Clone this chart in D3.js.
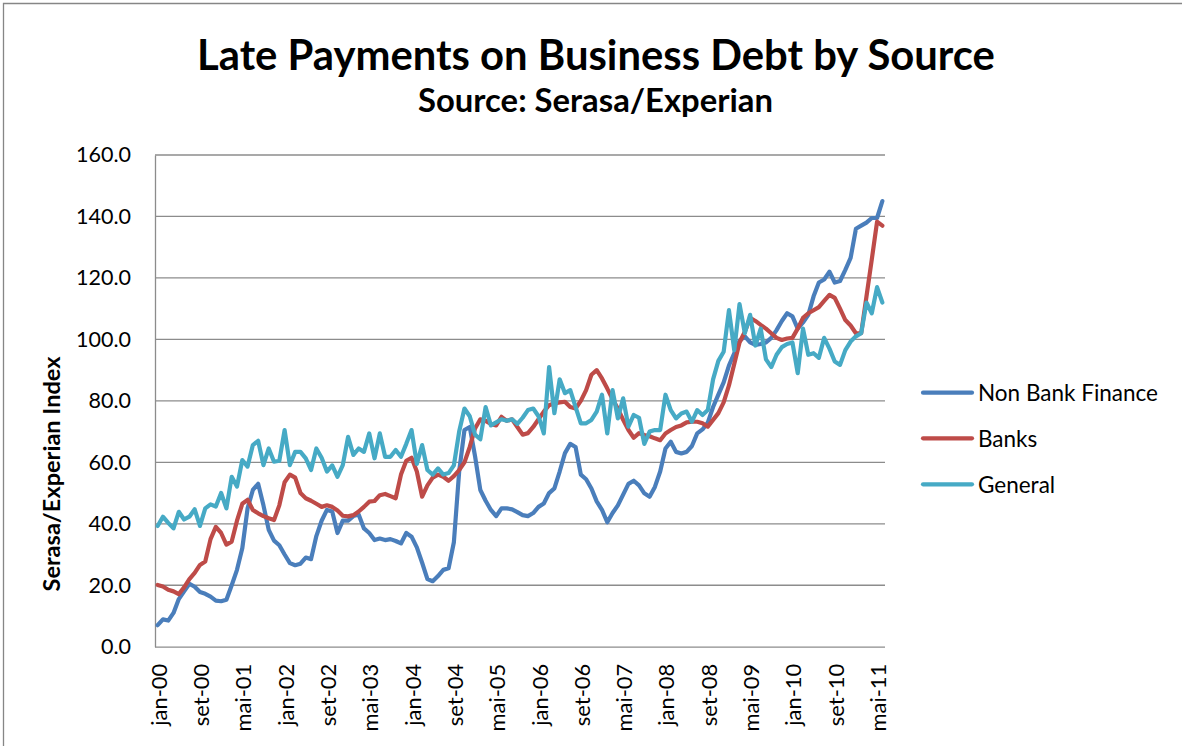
<!DOCTYPE html>
<html>
<head>
<meta charset="utf-8">
<script src="https://cdn.jsdelivr.net/npm/d3@7"></script>
<style>
  html, body { margin: 0; padding: 0; background: #fff; }
  svg { display: block; font-family: Lato, "Open Sans", "DejaVu Sans", sans-serif; }
</style>
</head>
<body>
<svg id="chart" width="1182" height="746"></svg>
<script>
// Monthly categories, jan-00 .. jun-11 (Portuguese month abbreviations)
const monthNames = ["jan","fev","mar","abr","mai","jun","jul","ago","set","out","nov","dez"];
const monthCount = 138;
const categories = d3.range(monthCount).map(i =>
  monthNames[i % 12] + "-" + String(Math.floor(i / 12)).padStart(2, "0"));
// every 8th month gets a label
const tickLabels = categories.filter((d, i) => i % 8 === 0);
const yTicks = [0, 20, 40, 60, 80, 100, 120, 140, 160];

const seriesNames = ["Non Bank Finance", "Banks", "General"];

const nonBankFinance = [
  7.0, 8.9, 8.5, 11, 15.5, 18, 20.5, 19.5, 17.8, 17.2, 16.3, 15,
  14.8, 15.3, 20, 25, 32, 45, 51, 53, 46, 38, 34.5, 33,
  30, 27.2, 26.5, 27, 29, 28.5, 36, 41, 44.5, 44, 37, 41,
  41, 42.5, 43, 38.5, 37, 34.7, 35.2, 34.7, 35, 34.4, 33.6, 37,
  35.8, 32.3, 27.3, 22, 21.3, 23, 25, 25.5, 34, 57, 70.5, 71.5,
  62, 51, 47.5, 44.5, 42.5, 45, 45, 44.7, 43.8, 42.8, 42.5, 43.5,
  45.5, 46.6, 50, 51.5, 57, 63, 66, 65, 56, 54.5, 51.5, 47.3,
  44.5, 40.5, 43.5, 46, 49.5, 53, 54, 52.5, 49.9, 48.8, 52, 57,
  64.5, 66.7, 63.4, 62.9, 63.4, 65.3, 69.4, 70.7, 72.9, 78, 82, 86,
  91.5, 95.5, 99.5, 101, 99, 98.2, 98.5, 99, 100.5, 103, 106, 108.5,
  107.5, 103.5, 105.5, 108, 114, 118.5, 119.5, 122, 118.5, 119, 122.6, 126.5,
  136, 137, 138, 139.5, 139.5, 145
];

const banks = [
  20.1, 19.6, 18.5, 18, 17.1, 19.3, 22, 24, 26.6, 27.7, 35, 39,
  37, 33.2, 34.2, 41, 46.5, 47.8, 44.5, 43.4, 42.5, 41.8, 41.2, 46,
  53.5, 56, 55, 50, 48.3, 47.5, 46.5, 45.5, 46, 45.5, 44.3, 42.6,
  42.4, 42.8, 44, 45.5, 47.2, 47.4, 49.3, 49.7, 49, 48.3, 56, 60.5,
  61.5, 57, 48.8, 52.5, 55, 56, 55.3, 54, 55.5, 57.5, 60, 65,
  71, 74, 73.5, 72.5, 72, 74.8, 73.5, 74, 71.5, 69, 69.5, 71.5,
  74, 76.5, 78.6, 79.2, 79.5, 79.7, 78, 77.5, 80, 83.5, 88.5, 90,
  87.3, 84, 80.5, 77.5, 73.8, 70.5, 68, 69.5, 68.9, 68.5, 67.8, 67.2,
  69.4, 70.5, 71.5, 72, 73, 73.2, 73.2, 72.7, 71.6, 73.8, 76, 79.5,
  85, 92, 99, 102.5, 107, 106, 104.7, 103.5, 102, 100.5, 99.8, 100.3,
  100.5, 103.5, 107, 108.5, 109.5, 110.5, 112.5, 114.5, 113.5, 110, 106.3, 104.5,
  102, 102, 114, 126, 138.3, 137
];

const general = [
  39.3, 42.3, 40.3, 38.5, 43.9, 41.4, 42.3, 44.7, 39.3, 45, 46.3, 45.6,
  50, 45, 55.3, 52.1, 60.7, 58.6, 65.6, 67, 59.1, 64.5, 60.2, 60.5,
  70.5, 59.1, 63.4, 63.4, 61.3, 57.5, 64.5, 61.5, 57, 59, 55.3, 59.1,
  68.3, 62.4, 64.5, 63.4, 69.4, 61.3, 69.4, 61.8, 61.8, 64, 61.8, 66,
  70.5, 59.5, 65.6, 57.5, 56, 58, 56, 56.5, 59, 70, 77.5, 75,
  69, 67.5, 78, 72, 73, 74, 73.5, 74, 72.5, 74.5, 77, 77.5,
  75, 69.4, 91, 76, 87, 82.5, 83.5, 78, 72.7, 72.7, 73.8, 76.5,
  82, 69.4, 83.5, 74.3, 80.8, 71.6, 75.4, 74.5, 66, 70, 70.5, 70.5,
  82, 77, 74.3, 75.9, 76.5, 73.2, 77, 75.4, 77, 87, 93, 96,
  109.5, 96.5, 111.5, 102, 108, 98, 103.5, 93.5, 91, 95, 97.5, 98.5,
  99, 89, 103.5, 95, 95.5, 94, 100.5, 97, 92.8, 91.7, 96.5, 99.3,
  101, 102, 112, 108.5, 117, 112
];

const seriesColors = ["#4A7EBB", "#BE4B48", "#46AAC5"];
const seriesValues = [nonBankFinance, banks, general];

const svg = d3.select("#chart");
const W = 1182, H = 746;
const plot = { left: 155, right: 885, top: 155, bottom: 646.7 };

svg.append("rect").attr("width", W).attr("height", H).attr("fill", "#fff");

// chart-area frame (top and left edges visible)
svg.append("path")
  .attr("d", `M3.5,${H} V3.5 H${W}`)
  .attr("fill", "none").attr("stroke", "#868686").attr("stroke-width", 1.3);

const x = d3.scalePoint().domain(categories).range([plot.left, plot.right]).padding(0.5);
const y = d3.scaleLinear().domain([0, 160]).range([plot.bottom, plot.top]);

// shrink/grow a text element's font so its rendered width matches a target
function fitWidth(sel, target) {
  const node = sel.node();
  const fs = parseFloat(sel.attr("font-size"));
  const w = node.getComputedTextLength();
  sel.attr("font-size", (fs * target / w).toFixed(2));
}

// horizontal gridlines
svg.append("g")
  .selectAll("line").data(yTicks.filter(d => d > 0)).join("line")
  .attr("x1", plot.left).attr("x2", plot.right)
  .attr("y1", d => y(d)).attr("y2", d => y(d))
  .attr("stroke", "#8C8C8C").attr("stroke-width", 1.3);

// y axis
const yAxis = svg.append("g")
  .attr("transform", `translate(${plot.left},0)`)
  .call(d3.axisLeft(y).tickValues(yTicks).tickFormat(d3.format(".1f")).tickSize(0).tickPadding(24));
yAxis.select(".domain").attr("stroke", "#8C8C8C").attr("stroke-width", 1.3);
yAxis.selectAll("text")
  .attr("font-family", "Lato, sans-serif").attr("font-size", 20).attr("fill", "#000");
const yt = yAxis.selectAll("text").filter(d => d === 160);
fitWidth(yt, 55);
const yfs = yt.attr("font-size");
yAxis.selectAll("text").attr("font-size", yfs);

// x axis with rotated month labels
const xAxis = svg.append("g")
  .attr("transform", `translate(0,${plot.bottom})`)
  .call(d3.axisBottom(x).tickValues(tickLabels).tickSize(0).tickPadding(0));
xAxis.select(".domain").attr("stroke", "#8C8C8C").attr("stroke-width", 1.3)
  .attr("d", `M${plot.left},0.5H${plot.right}`);
xAxis.selectAll(".tick text")
  .attr("font-family", "Lato, sans-serif").attr("font-size", 20).attr("fill", "#000")
  .attr("text-anchor", "end")
  .attr("dominant-baseline", "central")
  .attr("transform", "rotate(-90)")
  .attr("x", -17).attr("y", 0).attr("dy", null);
const xt = xAxis.selectAll(".tick text").filter(d => d === "jan-00");
fitWidth(xt, 62);
xAxis.selectAll(".tick text").attr("font-size", xt.attr("font-size"));

// series lines
const line = d3.line().x((d, i) => x(categories[i])).y(d => y(d));
svg.append("g")
  .selectAll("path").data(seriesValues).join("path")
  .attr("d", d => line(d))
  .attr("fill", "none")
  .attr("stroke", (d, i) => seriesColors[i])
  .attr("stroke-width", 4.2)
  .attr("stroke-linejoin", "round")
  .attr("stroke-linecap", "round");

// titles
const title = svg.append("text")
  .attr("x", 596).attr("y", 70).attr("text-anchor", "middle")
  .attr("font-family", "Lato, sans-serif").attr("font-weight", "bold").attr("font-size", 40)
  .text("Late Payments on Business Debt by Source");
fitWidth(title, 798);

const subtitle = svg.append("text")
  .attr("x", 595.5).attr("y", 112).attr("text-anchor", "middle")
  .attr("font-family", "Lato, sans-serif").attr("font-weight", "bold").attr("font-size", 28)
  .text("Source: Serasa/Experian");
fitWidth(subtitle, 355);

const yTitle = svg.append("text")
  .attr("transform", "translate(60,474) rotate(-90)")
  .attr("text-anchor", "middle")
  .attr("font-family", "Lato, sans-serif").attr("font-weight", "bold").attr("font-size", 20)
  .text("Serasa/Experian Index");
fitWidth(yTitle, 235);

// legend
const legendY = [392.7, 438.3, 484.3];
const legend = svg.append("g")
  .selectAll("g").data(seriesNames).join("g")
  .attr("transform", (d, i) => `translate(0,${legendY[i]})`);
legend.append("line")
  .attr("x1", 923).attr("x2", 972)
  .attr("stroke", (d, i) => seriesColors[i])
  .attr("stroke-width", 4.2).attr("stroke-linecap", "round");
legend.append("text")
  .attr("x", 978).attr("y", 0)
  .attr("dominant-baseline", "central")
  .attr("font-family", "Lato, sans-serif").attr("font-size", 22).attr("fill", "#000")
  .text(d => d);
const lt = legend.selectAll("text").filter(d => d === "Non Bank Finance");
fitWidth(lt, 180);
legend.selectAll("text").attr("font-size", lt.attr("font-size"));
</script>
</body>
</html>
